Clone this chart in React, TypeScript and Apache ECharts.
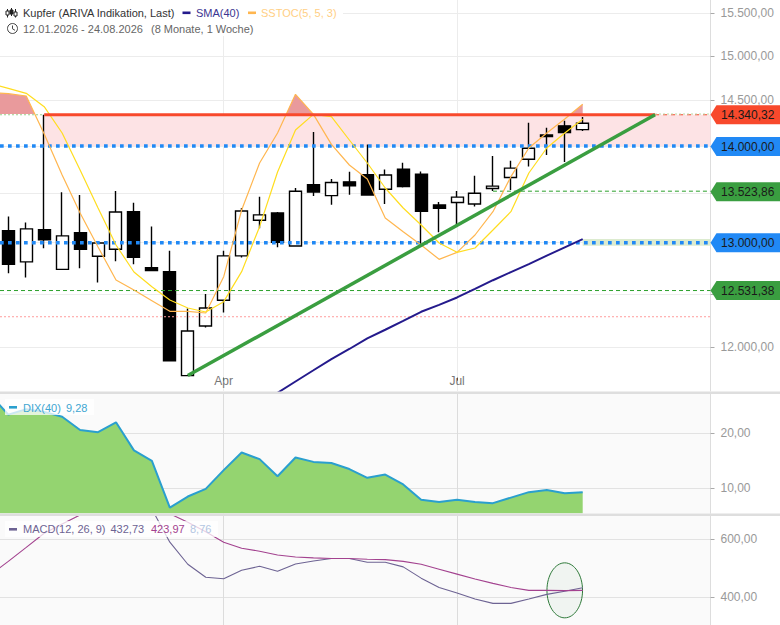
import React, { useEffect, useRef } from "react";
import * as echarts from "echarts";

const opens = [13121,12810,13131,12737,13101,12866,12934,13313,12754,12714,11740,12195,12439,12869,13226,13300,12967,13590,13478,13621,13695,13544,13755,13702,13382,13407,13391,13551,13666,13860,14120,14219,14178];
const closes = [12786,13138,13030,13068,12934,12997,13310,12855,12724,11874,12148,12364,12869,13320,13280,13003,13523,13516,13614,13579,13485,13692,13572,13316,13347,13462,13502,13576,13765,13976,14102,14145,14248];
const lows = [12698,12658,12944,12737,12747,12609,12816,12786,12724,11874,11740,12181,12322,12852,13145,12954,12967,13475,13384,13488,13482,13391,13561,12990,13104,13182,13367,13526,13537,13782,13905,13829,14164];
const highs = [13263,13202,14340,13513,13485,12997,13526,13404,13162,12921,12360,12498,12921,13350,13465,13310,13558,14153,13650,13726,14018,13751,13821,13730,13412,13526,13684,13895,13842,14252,14197,14274,14317];

const sstocFast = [86.45,86.1,85.4,74,61.7,50.3,40.1,30.2,27.2,24,20.8,20.8,20.3,31.2,51.2,65.3,74.3,85.9,79.9,70.9,64.7,60.5,48.8,44.7,40.7,36.4,38.5,43.7,50.7,61.2,69.8,74.3,78.5,82.9];
const sstocSlow = [89.2,87.7,86.2,82.2,74.3,63.2,51.8,40.7,32.6,28.2,24.2,21.8,20.6,23.7,32.7,46.2,62.6,75.2,79.9,79.2,72.2,65.3,57.8,51.8,46.7,41.3,38.5,39.8,45.2,50.7,62.3,69.8,74.3,78.4];
const sma40 = [11485,11586,11687,11788,11890,11982,12080,12160,12244,12329,12395,12465,12547,12631,12710,12788,12872,12954,13035];
const sma40Start = 14;
const dix = [27,23.4,24.4,23.9,23,20.6,20.2,22,16.9,15,6.5,8.5,9.9,13.3,16.5,15.3,12.2,15.6,14.8,14.6,13.5,11.9,12.5,10.7,7.9,7.5,7.9,7.5,7.3,8.3,9.3,9.7,9.1,9.28];
const macd = [800,840,880,900,905,900,880,850,804,704,590,514,469,464,493,507,490,515,525,534,534,521,521,505,466,434,415,394,379,379,394,410,421,432.73];
const macdSignal = [477,524,572,621,653,684,700,712,715,708,688,659,626,590,569,559,546,539,536,534,534,531,530,524,514,497,480,463,448,434,424,424,423,423.97];

const priceTicks = [12000,12500,13000,13500,14000,14500,15000,15500];
const priceLabels = [12000,14500,15000,15500];
const dixTicks = [10,20];
const macdTicks = [400,600];
const monthTicks = [12,25];
const monthNames: Record<number,string> = {12:"Apr",25:"Jul"};

const resistance = 14340.32;
const level14 = 14000;
const level13 = 13000;
const greenHigh = 13523.86;
const greenLow = 12531.38;
const redThin = 12282;
const trendStart: [number,number] = [10,11740];
const trendEnd: [number,number] = [36.03,14340.32];
const tagValues = [14340.32,14000,13523.86,13000,12531.38];
const tagLabels = ["14.340,32","14.000,00","13.523,86","13.000,00","12.531,38"];
const tagColors = ["#f8492c","#2189f5","#3a9e40","#2189f5","#3a9e40"];
const tagOffsets = [0,0.5,0.5,0,0];

const XMIN = -0.4624, XMAX = 39.12;
const FONT = '"Liberation Sans", Arial, sans-serif';
const de = (v: number) => v.toLocaleString("de-DE",{minimumFractionDigits:2,maximumFractionDigits:2});

// part of the fast line above the 80 level, with the crossing points added
function above(values: number[], level: number, startX: number) {
  const out: [number,number][] = [];
  values.forEach((v,i)=>{
    const x = startX+i;
    if(i>0){
      const p = values[i-1];
      if((p-level)*(v-level)<0){ out.push([x-1+(level-p)/(v-p),level]); }
    }
    out.push([x,Math.max(v,level)]);
  });
  return out;
}
const withX = (vals: number[], start: number) => vals.map((v,i)=>[start+i,v]);

function lineS(name: string, data: any[], color: string, width: number, z: number, extra: any = {}) {
  return {type:"line",name,data,symbol:"none",silent:true,z,lineStyle:{color,width,...(extra.dash?{type:extra.dash}:{})},
    xAxisIndex:extra.x??0,yAxisIndex:extra.y??0,...(extra.rest||{})};
}
function xAx(gridIndex: number, main: boolean){
  return {type:"value",gridIndex,min:XMIN,max:XMAX,
    axisLine:{show:false},
    axisTick:{show:main,inside:true,length:3,customValues:monthTicks,lineStyle:{color:"#333"}},
    axisLabel:{show:main,inside:true,margin:4,customValues:monthTicks,formatter:(v:number)=>monthNames[v]||"",color:"#777",fontSize:12,fontFamily:FONT},
    splitLine:{show:true,lineStyle:{color:main?"#ececec":"#dcdcdc",width:1}}};
}
function yAx(gridIndex:number,min:number,max:number,ticks:number[],labels:number[],type:string,grid:string){
  return {type,gridIndex,position:"right",min,max,
    axisLine:{show:true,onZero:false,lineStyle:{color:"#ddd"}},
    axisTick:{show:true,length:4,customValues:ticks,lineStyle:{color:"#aaa"}},
    axisLabel:{show:true,margin:10,customValues:labels,formatter:(v:number)=>de(v),color:"#999",fontSize:12,fontFamily:FONT,hideOverlap:false,showMinLabel:true,showMaxLabel:true},
    splitLine:{show:true,lineStyle:{color:grid,width:1}}};
}
const txt=(x:number,y:number,text:string,fill:string,size=11)=>({type:"text",x,y,z:101,silent:true,style:{text,fill,font:`${size}px ${FONT}`,textVerticalAlign:"middle",verticalAlign:"middle"}});
const seg=(x1:number,y1:number,x2:number,y2:number,stroke:string,w=1)=>({type:"line",z:101,silent:true,shape:{x1,y1,x2,y2},style:{stroke,lineWidth:w}});
const box=(x:number,y:number,width:number,height:number,fill:string,opacity=1)=>({type:"rect",z:100,silent:true,shape:{x,y,width,height},style:{fill,opacity}});

export default function App(){
  const ref = useRef<HTMLDivElement>(null);
  useEffect(()=>{
    document.body.style.margin="0";
    const chart = echarts.init(ref.current!,undefined,{renderer:"svg"});
    const candles = opens.map((o,i)=>[i,o,closes[i],lows[i],highs[i]]);
    chart.setOption({
      animation:false,
      backgroundColor:"#fff",
      grid:[
        {left:0,top:0,width:710.5,height:391,containLabel:false},
        {left:0,top:394,width:710.5,height:119.3,show:true,backgroundColor:"#fafafa",borderWidth:0},
        {left:0,top:516,width:710.5,height:109,show:true,backgroundColor:"#fafafa",borderWidth:0},
      ],
      xAxis:[xAx(0,true),xAx(1,false),xAx(2,false)],
      yAxis:[
        yAx(0,11602,15660,priceTicks,priceLabels,"log","#ececec"),
        yAx(1,5.45,27.15,dixTicks,dixTicks,"value","#e2e2e2"),
        yAx(2,304.5,680.3,macdTicks,macdTicks,"value","#e2e2e2"),
        {type:"value",gridIndex:0,show:false,min:-3.1,max:114.2,splitLine:{show:false}},
      ],
      series:[
        lineS("Zone",[[2,resistance],[XMAX,resistance]],"rgba(0,0,0,0)",0,1,{rest:{markArea:{silent:true,itemStyle:{color:"#fde3e5"},data:[[{xAxis:2,yAxis:resistance},{xAxis:XMAX,yAxis:level14}]]}}}),
        lineS("Zone13",[[32,level13],[XMAX,level13]],"rgba(0,0,0,0)",0,1,{rest:{markArea:{silent:true,itemStyle:{color:"#dcebcf"},data:[[{xAxis:32,yAxis:13037},{xAxis:XMAX,yAxis:12970}]]}}}),
        lineS("Overbought",above(sstocFast,80,-1),"rgba(0,0,0,0)",0,2,{y:3,rest:{areaStyle:{color:"#e99a9c",opacity:1,origin:80}}}),
        {type:"candlestick",name:"Kupfer (ARIVA Indikation, Last)",data:candles,barWidth:12.5,z:3,silent:true,
          encode:{x:0,y:[1,2,3,4]},
          itemStyle:{color:"#fff",color0:"#000",borderColor:"#000",borderColor0:"#000",borderWidth:1.4}},
        lineS("GreenLow",[[XMIN,greenLow],[XMAX,greenLow]],"#2ca02c",1,4,{dash:[4,3]}),
        lineS("GreenHigh",[[27,greenHigh],[XMAX,greenHigh]],"#2ca02c",1,4,{dash:[4,3]}),
        lineS("RedThin",[[XMIN,redThin],[XMAX,redThin]],"#ff9c9c",1,4,{dash:[2,2]}),
        lineS("Level14",[[XMIN,level14],[XMAX,level14]],"#2189f5",3.5,5,{dash:[3.7,4.3]}),
        lineS("Level13",[[XMIN,level13],[XMAX,level13]],"#2189f5",3.5,5,{dash:[3.7,4.3]}),
        lineS("SMA(40)",withX(sma40,sma40Start),"#241a8c",2,6),
        lineS("SSTOC fast",withX(sstocFast,-1),"#ffb64f",1.2,7,{y:3}),
        lineS("SSTOC slow",withX(sstocSlow,-1),"#ffdd1f",1.2,7,{y:3}),
        lineS("ResGreenL",[[XMIN,resistance],[2,resistance]],"#9ccf8a",1,8,{dash:[2,2]}),
        lineS("ResDashR",[[trendEnd[0],resistance],[XMAX,resistance]],"#f8492c",1,8,{dash:[4,4]}),
        lineS("ResGreenR",[[trendEnd[0],resistance+8],[XMAX,resistance+8]],"#b9d7a0",1,8,{dash:[2,2]}),
        lineS("Resistance",[[2,resistance],[trendEnd[0],resistance]],"#f8492c",3,9),
        lineS("Trend",[trendStart,trendEnd],"#3a9e40",3.5,10),
        {type:"custom",name:"Tags",xAxisIndex:0,yAxisIndex:0,z:20,silent:true,clip:false,
          data:tagValues.map(v=>[XMAX,v]),
          renderItem:(p:any,api:any)=>{
            const c=api.coord([api.value(0),api.value(1)]);
            const i=p.dataIndex;
            const x=c[0], y=c[1]+tagOffsets[i];
            return {type:"group",children:[
              {type:"polygon",shape:{points:[[x,y],[x+6,y-9.5],[x+70,y-9.5],[x+70,y+9.5],[x+6,y+9.5]]},style:{fill:tagColors[i]}},
              {type:"text",style:{x:x+10.5,y:y+0.5,text:tagLabels[i],fill:"#1a1a1a",font:`12px ${FONT}`,align:"left",verticalAlign:"middle",textVerticalAlign:"middle"}},
            ]};
          }},
        lineS("DIX(40)",withX(dix,-1),"#2a9fce",2,3,{x:1,y:1,rest:{areaStyle:{color:"#94d470",opacity:1,origin:"start"}}}),
        {type:"custom",name:"Circle",xAxisIndex:2,yAxisIndex:2,z:2,silent:true,clip:false,
          data:[[31,424]],
          renderItem:(_:any,api:any)=>{
            const c=api.coord([api.value(0),api.value(1)]);
            return {type:"ellipse",shape:{cx:c[0],cy:c[1],rx:17.8,ry:27.5},style:{fill:"rgba(56,130,70,0.05)",stroke:"#2f7a3a",lineWidth:1}};
          }},
        lineS("MACD",withX(macd,-1),"#6d6393",1.1,3,{x:2,y:2}),
        lineS("Signal",withX(macdSignal,-1),"#a3428f",1.1,3,{x:2,y:2}),
      ],
      graphic:[
        box(0,391.5,780,2.5,"#dedede"),
        box(0,513.4,780,2.6,"#dedede"),
        box(0,0,343,36,"#fff"),
        seg(7.5,9,7.5,17.5,"#222"),{type:"rect",z:101,silent:true,shape:{x:6,y:11,width:3,height:4},style:{fill:"#fff",stroke:"#222",lineWidth:1}},
        seg(11.5,8,11.5,16,"#222"),{type:"rect",z:101,silent:true,shape:{x:10,y:10,width:3,height:4},style:{fill:"#222",stroke:"#222",lineWidth:1}},
        seg(15.5,9,15.5,17.5,"#222"),{type:"rect",z:101,silent:true,shape:{x:14,y:12,width:3,height:4},style:{fill:"#fff",stroke:"#222",lineWidth:1}},
        txt(23,13,"Kupfer (ARIVA Indikation, Last)","#333"),
        box(182.5,11.5,8,2.6,"#241a8c"),
        txt(196,13,"SMA(40)","#3b3592"),
        box(248,11.5,8,2.6,"#ffb64f"),
        txt(261,13,"SSTOC(5, 5, 3)","#ffcf85"),
        {type:"circle",z:101,silent:true,shape:{cx:12.5,cy:28.5,r:5},style:{fill:"none",stroke:"#444",lineWidth:1}},
        seg(12.5,25.5,12.5,28.8,"#444"),seg(12.5,28.8,15,30.3,"#444"),
        txt(23,29,"12.01.2026 - 24.08.2026","#666"),
        txt(151,29,"(8 Monate, 1 Woche)","#666"),
        box(5,399,89,16,"#fff",0.75),
        box(9,406,8,2.6,"#2a9fce"),
        txt(23,407.5,"DIX(40)","#3ea6d2"),
        txt(66,407.5,"9,28","#3ea6d2"),
        box(5,521,213,16,"#fff",0.75),
        box(9,528,8,2.6,"#6d6393"),
        txt(23,529,"MACD(12, 26, 9)","#6d6393"),
        txt(110.5,529,"432,73","#6d6393"),
        txt(151,529,"423,97","#a3428f"),
        txt(190,529,"8,76","#b3c6e2"),
      ],
    });
    return ()=>chart.dispose();
  },[]);
  return <div ref={ref} style={{position:"absolute",left:0,top:0,width:780,height:625}}/>;
}
